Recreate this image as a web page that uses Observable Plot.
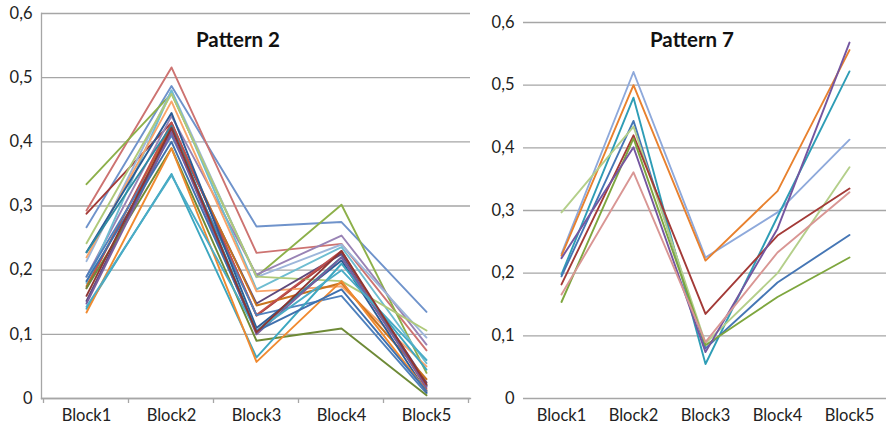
<!DOCTYPE html>
<html>
<head>
<meta charset="utf-8">
<script src="https://cdn.jsdelivr.net/npm/d3@7"></script>
<script src="https://cdn.jsdelivr.net/npm/@observablehq/plot@0.6"></script>
<style>
  html, body { margin: 0; padding: 0; background: #fff; }
  #wrap { position: relative; width: 886px; height: 429px; overflow: hidden; font-family: Lato, "Open Sans", sans-serif; }
  #wrap > div { position: absolute; top: 0; }
  #left { left: 0; }
  #right { left: 478px; }
</style>
</head>
<body>
<div id="wrap"><div id="left"></div><div id="right"></div></div>
<script>
// Categories and axis ticks
const blocks = ["Block1", "Block2", "Block3", "Block4", "Block5"];
const yTicks = [0, 0.1, 0.2, 0.3, 0.4, 0.5, 0.6];

// Pattern 2: one value per block for each profile
const p2Values = [
  [0.267, 0.487, 0.268, 0.275, 0.135],
  [0.293, 0.516, 0.227, 0.241, 0.075],
  [0.334, 0.475, 0.190, 0.302, 0.040],
  [0.288, 0.430, 0.129, 0.228, 0.020],
  [0.190, 0.440, 0.193, 0.254, 0.084],
  [0.214, 0.480, 0.189, 0.240, 0.095],
  [0.180, 0.480, 0.170, 0.236, 0.055],
  [0.242, 0.475, 0.190, 0.183, 0.106],
  [0.220, 0.463, 0.167, 0.175, 0.050],
  [0.152, 0.420, 0.148, 0.225, 0.025],
  [0.175, 0.425, 0.145, 0.180, 0.030],
  [0.172, 0.430, 0.130, 0.230, 0.015],
  [0.190, 0.410, 0.130, 0.160, 0.008],
  [0.228, 0.445, 0.110, 0.215, 0.010],
  [0.228, 0.425, 0.105, 0.220, 0.020],
  [0.172, 0.390, 0.090, 0.109, 0.005],
  [0.140, 0.350, 0.064, 0.210, 0.045],
  [0.134, 0.390, 0.057, 0.183, 0.012],
  [0.148, 0.415, 0.100, 0.220, 0.018],
  [0.143, 0.348, 0.105, 0.200, 0.060],
  [0.183, 0.400, 0.105, 0.170, 0.012],
  [0.160, 0.422, 0.103, 0.230, 0.022]
];
const p2Colors = [
  "#6F93CB", "#CD7371", "#8DB04A", "#A33A37", "#9983B5", "#9DB6DA",
  "#6FBDD1", "#AFC97A", "#F9A46A", "#5F497A", "#C8731E", "#C0504D",
  "#4F81BD", "#2C5C96", "#2E8BA3", "#6E8A36", "#3DA7C0", "#F08A30",
  "#7A5E9E", "#4BACC6", "#3F70AE", "#8E3532"
];

// Pattern 7
const p7Values = [
  [0.231, 0.521, 0.225, 0.297, 0.413],
  [0.228, 0.500, 0.220, 0.331, 0.556],
  [0.198, 0.480, 0.055, 0.290, 0.522],
  [0.195, 0.443, 0.080, 0.185, 0.261],
  [0.297, 0.434, 0.088, 0.200, 0.369],
  [0.182, 0.420, 0.135, 0.260, 0.335],
  [0.154, 0.415, 0.085, 0.162, 0.225],
  [0.224, 0.401, 0.074, 0.271, 0.568],
  [0.166, 0.361, 0.090, 0.233, 0.329]
];
const p7Colors = [
  "#8EA9DB", "#E8812E", "#2E9DB6", "#4576B5", "#B4CF8A",
  "#A33A37", "#7EA63E", "#7456A0", "#D99694"
];

const fmt = d => d === 0 ? "0" : d.toFixed(1).replace(".", ",");
const font = "Lato, 'Open Sans', sans-serif";

function toRows(values) {
  return values.flatMap((vals, s) => vals.map((v, i) => ({series: s, block: blocks[i], value: v})));
}

// Short tick marks between categories on the bottom axis
function boundaryTicks() {
  return (index, scales, values, dims) => {
    const x = scales.x;
    const step = x(blocks[1]) - x(blocks[0]);
    const y0 = dims.height - dims.marginBottom;
    const g = d3.create("svg:g");
    const xs = [x(blocks[0]) - step / 2, ...blocks.map(b => x(b) + step / 2)];
    for (const xv of xs) {
      g.append("line").attr("x1", xv).attr("x2", xv).attr("y1", y0).attr("y2", y0 + 5)
        .attr("stroke", "#a6a6a6").attr("stroke-width", 1.3);
    }
    return g.node();
  };
}

function panel({title, values, colors, width, marginLeft, marginRight, marginTop, withAxisLines, titleDx, titleDy}) {
  const rows = toRows(values);
  const marks = [
    Plot.gridY(yTicks, {stroke: "#a6a6a6", strokeOpacity: 1, strokeWidth: 1.3}),
    Plot.axisY(yTicks, {tickSize: 0, tickPadding: 9, tickFormat: fmt, fontSize: 16.5, label: null, fill: "#222"}),
    Plot.axisX({tickSize: 0, tickPadding: 11, fontSize: 16.5, label: null, fill: "#222"})
  ];
  if (withAxisLines) {
    marks.push(Plot.frame({anchor: "left", stroke: "#a6a6a6", strokeWidth: 1.3}));
    marks.push(Plot.frame({anchor: "bottom", stroke: "#a6a6a6", strokeWidth: 1.3}));
    marks.push(boundaryTicks());
  }
  marks.push(Plot.lineY(rows, {x: "block", y: "value", z: "series", stroke: d => colors[d.series], strokeWidth: 1.9}));
  marks.push(Plot.text([title], {frameAnchor: "top", dx: titleDx, dy: titleDy, lineAnchor: "middle", fontSize: 20.5, fontWeight: "bold", fill: "#111"}));
  return Plot.plot({
    width, height: 429,
    marginLeft, marginRight, marginTop, marginBottom: 31,
    style: {fontFamily: font, background: "#fff", overflow: "visible"},
    x: {type: "point", domain: blocks, padding: 0.5},
    y: {domain: [0, 0.6]},
    marks
  });
}

document.getElementById("left").append(panel({
  title: "Pattern 2", values: p2Values, colors: p2Colors,
  width: 475, marginLeft: 41, marginRight: 5, marginTop: 13,
  withAxisLines: true, titleDx: -18, titleDy: 27
}));
document.getElementById("right").append(panel({
  title: "Pattern 7", values: p7Values, colors: p7Colors,
  width: 408, marginLeft: 45, marginRight: 0, marginTop: 22,
  withAxisLines: false, titleDx: -13, titleDy: 18
}));
</script>
</body>
</html>
